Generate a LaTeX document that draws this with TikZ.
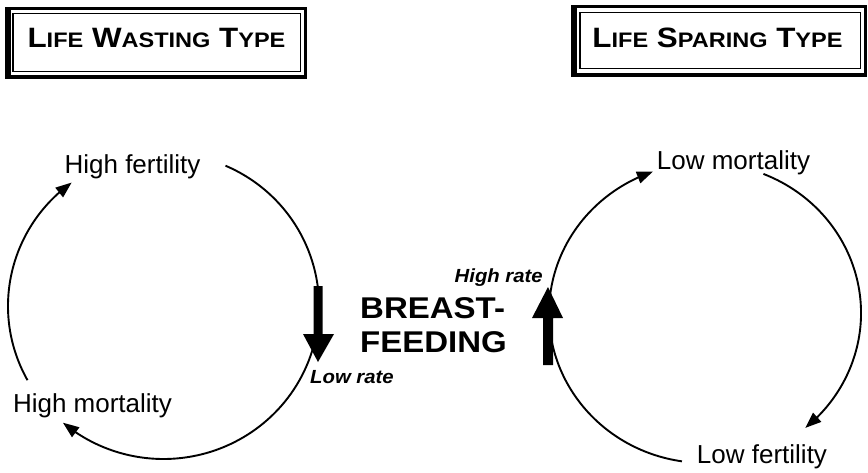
\documentclass[tikz,border=0pt]{standalone}
\usepackage{fontspec}
\setmainfont{Liberation Sans}
\usetikzlibrary{arrows.meta,calc,bending}
\newcommand\capsword[2]{{\fontsize{28}{30}\selectfont #1}{\fontsize{21}{30}\selectfont #2}}
\begin{document}
\begin{tikzpicture}[x=1pt,y=-1pt,
  thinarr/.style={line width=1.9pt,-{Triangle[length=16pt,width=12pt]}},
  txt/.style={inner sep=0pt,anchor=base,font=\fontsize{26}{30}\selectfont},
  rate/.style={inner sep=0pt,font=\fontsize{19}{20}\selectfont\bfseries\itshape},
  big/.style={inner sep=0pt,anchor=base west,font=\fontsize{30}{34}\selectfont\bfseries},
  title/.style={inner sep=0pt,anchor=base,font=\fontsize{28}{30}\selectfont\bfseries},
  outerframe/.style={line width=3pt},
  innerframe/.style={line width=1.2pt}]
\useasboundingbox (0,0) rectangle (868,472);
\fill[white] (0,0) rectangle (868,472);

% title boxes
\draw[outerframe] (7.5,8) rectangle (305,77);
\fill (5,6.5) rectangle (10.5,79);
\fill (5,74.5) rectangle (306.5,79);
\draw[innerframe] (13,13.5) rectangle (300.5,71.5);
\node[title] (lw) at (156.5,47) {\scalebox{1.12}[1]{\capsword{L}{IFE} \capsword{W}{ASTING} \capsword{T}{YPE}}};

\draw[outerframe] (573,6) rectangle (865.5,75);
\fill (571,4.5) rectangle (577,77);
\fill (571,72.5) rectangle (867,77);
\draw[innerframe] (580,12.5) rectangle (860.5,68.5);
\node[title] (ls) at (717.5,47) {\scalebox{1.12}[1]{\capsword{L}{IFE} \capsword{S}{PARING} \capsword{T}{YPE}}};

% labels
\node[txt] (hf) at (132.5,173) {High fertility};
\node[txt] (hm) at (92.5,412) {High mortality};
\node[txt] (lm) at (733.5,169) {Low mortality};
\node[txt] (lf) at (762,463) {Low fertility};
\node[rate,anchor=base east] (hr) at (543,282) {\scalebox{1.07}[1]{High rate}};
\node[rate,anchor=base west] (lr) at (310,383) {\scalebox{1.07}[1]{Low rate}};
\node[big] (bf1) at (360,318) {\scalebox{1.1}[1]{BREAST-}};
\node[big] (bf2) at (360,352) {\scalebox{1.1}[1]{FEEDING}};

% cycles
\coordinate (c1) at (163.5,306);
\coordinate (c2) at (705,313);
\draw[thinarr] ($(c1)+(-66.5:155.5 and 153)$) arc[start angle=-66.5,end angle=130.3,x radius=155.5,y radius=153];
\draw[thinarr] ($(c1)+(-209:155.5 and 153)$) arc[start angle=-209,end angle=-126.2,x radius=155.5,y radius=153];
\draw[thinarr] ($(c2)+(-68:156 and 150)$) arc[start angle=-68,end angle=50,x radius=156,y radius=150];
\draw[thinarr] ($(c2)+(-261.5:156 and 150)$) arc[start angle=-261.5,end angle=-109.5,x radius=156,y radius=150];

% thick breast-feeding arrows
\fill (313.5,286) -- (322.5,286) -- (322.5,334) -- (334,334) -- (318,362) -- (303,334) -- (313.5,334) -- cycle;
\fill (543,365) -- (553,365) -- (553,318) -- (563,318) -- (548,287) -- (532,318) -- (543,318) -- cycle;
\end{tikzpicture}
\end{document}
